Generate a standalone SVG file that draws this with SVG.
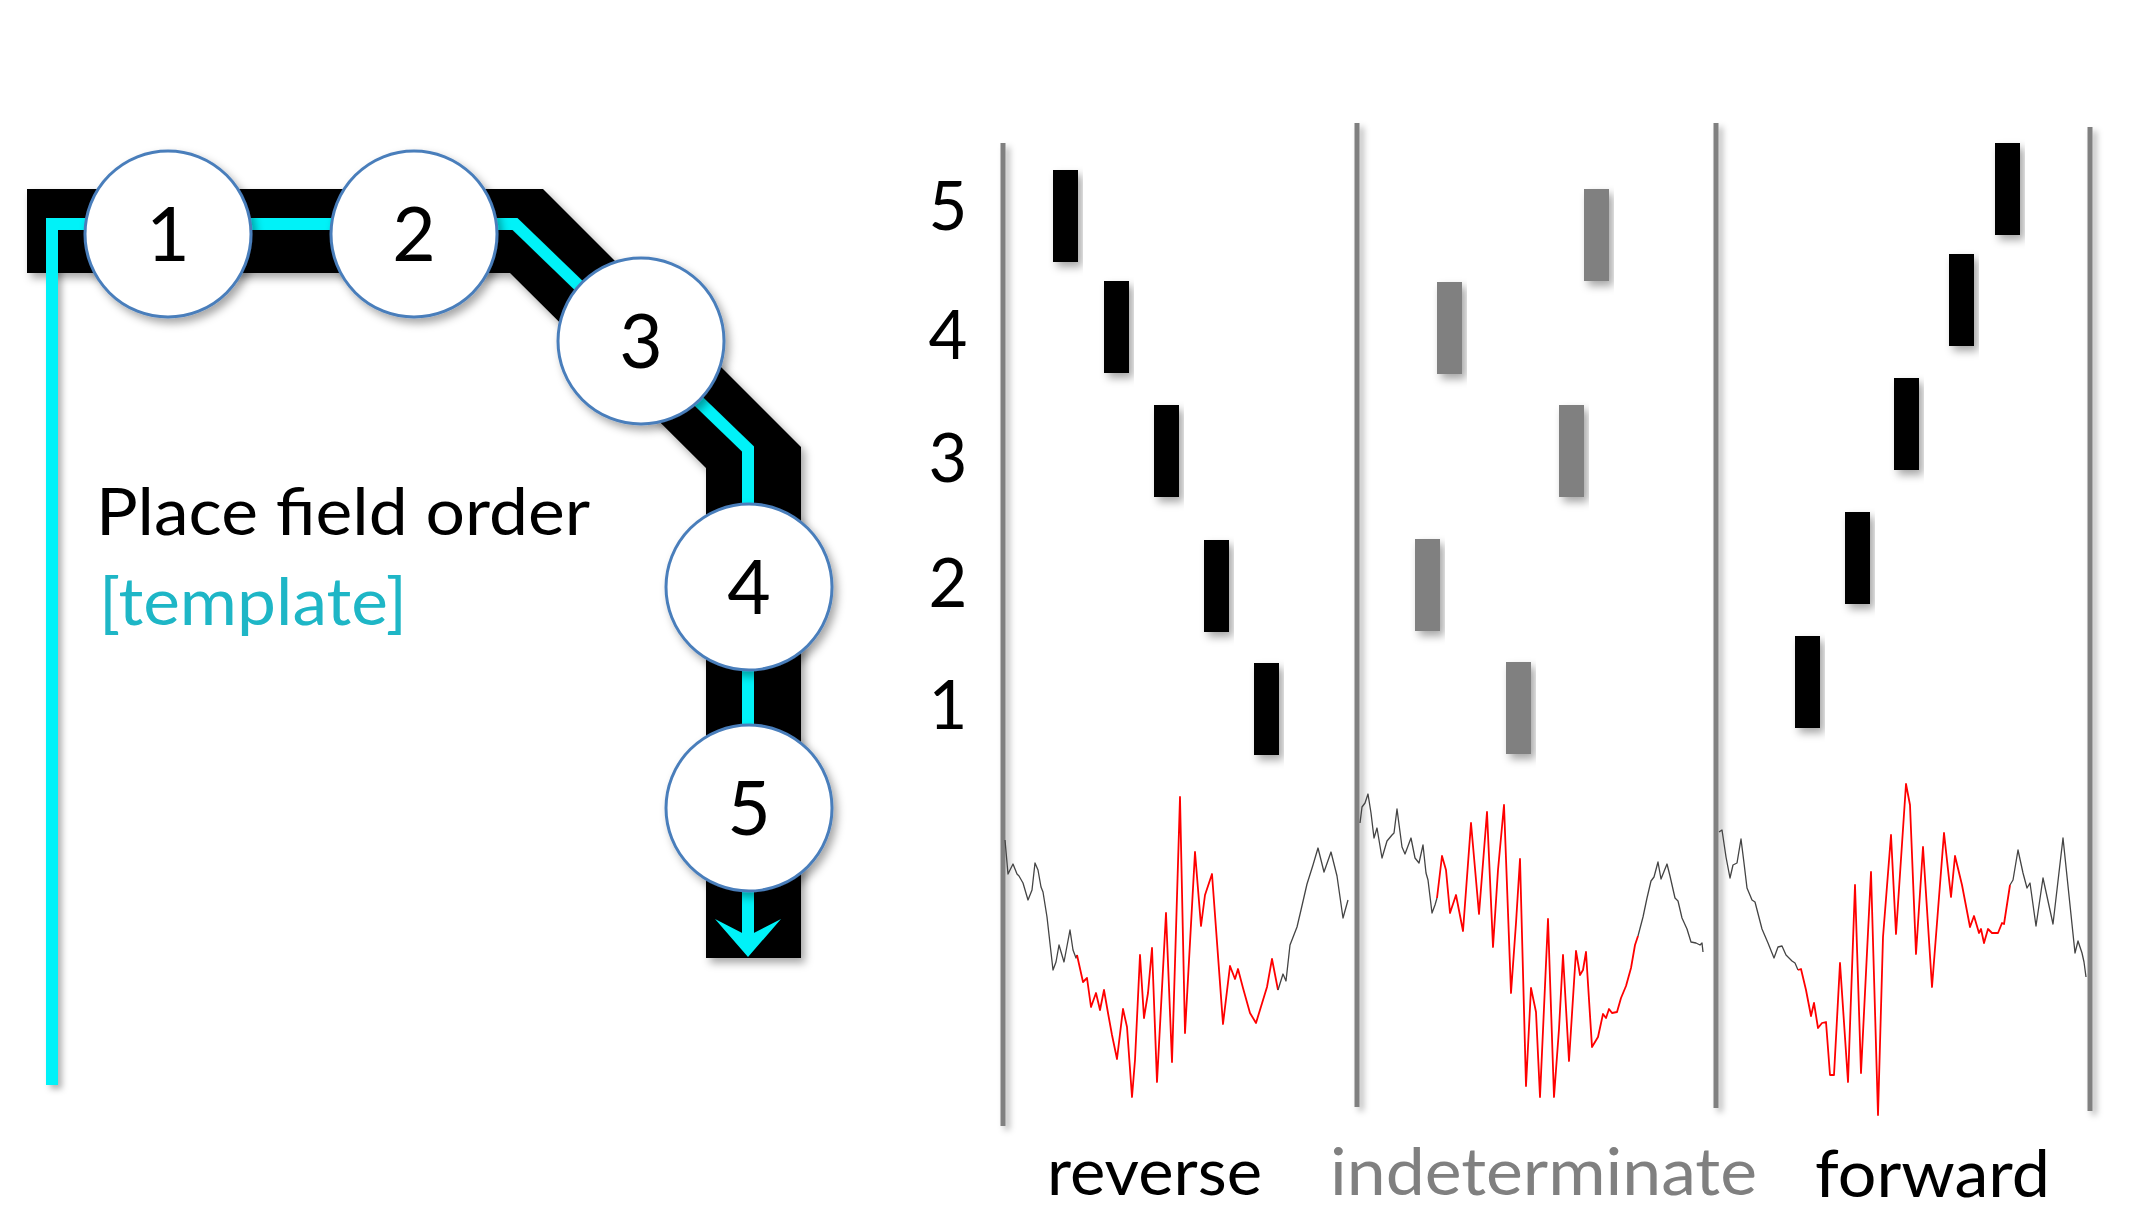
<svg xmlns="http://www.w3.org/2000/svg" width="2140" height="1226" viewBox="0 0 2140 1226">
<defs>
<filter id="sh" x="-20%" y="-20%" width="140%" height="140%">
<feDropShadow dx="4" dy="5" stdDeviation="4" flood-color="#000" flood-opacity="0.35"/>
</filter>
<filter id="shl" filterUnits="userSpaceOnUse" x="0" y="0" width="2140" height="1226">
<feDropShadow dx="4" dy="4" stdDeviation="3" flood-color="#000" flood-opacity="0.3"/>
</filter>
<style>
.t{font-family:Lato,"Open Sans","Liberation Sans",sans-serif;}
.node circle{fill:#fff;stroke:#4A7EBB;stroke-width:3;filter:url(#sh);}
.node text{font-size:75px;text-anchor:middle;fill:#000;}
.axis{fill:#808080;filter:url(#shl);}
.spk{fill:#000;filter:url(#sh);}
.spg{fill:#808080;filter:url(#sh);}
.row{font-size:67px;text-anchor:middle;fill:#000;}
.lab{font-size:66px;}
.gw{fill:none;stroke:#444;stroke-width:1.3;stroke-linejoin:round;}
.rw{fill:none;stroke:#FF0000;stroke-width:1.8;stroke-linejoin:round;}
</style>
</defs>
<rect width="2140" height="1226" fill="#fff"/>

<g id="track">
<polygon points="27,189 543,189 801,447 801,958 706,958 706,468 510,273 27,273" fill="#000" filter="url(#sh)"/>
</g>

<g id="connectors">
<path d="M52,1085 L52,224 L515,224 L748,449 L748,936" fill="none" stroke="#00F2F8" stroke-width="12" stroke-linejoin="miter" filter="url(#shl)"/>
<polygon points="715,919 748,957 781,919 748,936" fill="#00F2F8"/>
</g>

<g id="node1" class="node t"><circle cx="168" cy="234" r="83"/><text x="168" y="261">1</text></g>
<g id="node2" class="node t"><circle cx="414" cy="234" r="83"/><text x="414" y="261">2</text></g>
<g id="node3" class="node t"><circle cx="641" cy="341" r="83"/><text x="641" y="368">3</text></g>
<g id="node4" class="node t"><circle cx="749" cy="587" r="83"/><text x="749" y="614">4</text></g>
<g id="node5" class="node t"><circle cx="749" cy="808" r="83"/><text x="749" y="835">5</text></g>

<g id="title" class="t">
<text x="96" y="535" font-size="66" fill="#000" textLength="494" lengthAdjust="spacingAndGlyphs">Place field order</text>
<text x="99" y="625" font-size="66" fill="#1EB6C6" textLength="308" lengthAdjust="spacingAndGlyphs">[template]</text>
</g>

<g id="axes">
<rect class="axis" x="1000.5" y="143" width="5" height="983"/>
<rect class="axis" x="1354.5" y="123" width="5" height="984"/>
<rect class="axis" x="1713.5" y="123" width="5" height="985"/>
<rect class="axis" x="2087.5" y="127" width="5" height="984"/>
</g>

<g id="rowlabels" class="t">
<text class="row" x="948" y="230">5</text>
<text class="row" x="948" y="359">4</text>
<text class="row" x="948" y="482">3</text>
<text class="row" x="948" y="607">2</text>
<text class="row" x="948" y="729">1</text>
</g>

<g id="reverse">
<rect class="spk" x="1053" y="170" width="25" height="92"/>
<rect class="spk" x="1104" y="281" width="25" height="92"/>
<rect class="spk" x="1154" y="405" width="25" height="92"/>
<rect class="spk" x="1204" y="540" width="25" height="92"/>
<rect class="spk" x="1254" y="663" width="25" height="92"/>
<polyline class="gw" points="1005,840 1008,874 1013,864 1017,874 1019,876 1023,883 1028,900 1032,890 1035,863 1038,870 1041,887 1043,892 1047,917 1053,970 1056,962 1059,945 1064,962 1070,930 1073,950 1076,958 1077,955"/>
<polyline class="rw" points="1077,955 1083,982 1087,978 1091,1007 1096,993 1100,1010 1104,990 1108,1013 1112,1035 1117,1059 1123,1009 1127,1027 1132,1097 1135,1060 1140,955 1144,1018 1148,993 1152,948 1157,1082 1166,913 1172,1062 1180,797 1185,1033 1195,852 1201,926 1205,895 1212,874 1223,1024 1230,966 1235,979 1238,969 1243,988 1250,1013 1256,1023 1267,987 1272,959 1278,990"/>
<polyline class="gw" points="1278,990 1283,974 1286,981 1290,945 1297,927 1301,910 1307,884 1313,865 1318,848 1324,872 1331,852 1337,876 1343,918 1348,900"/>
<text class="t lab" x="1047" y="1195" fill="#000" textLength="215" lengthAdjust="spacingAndGlyphs">reverse</text>
</g>

<g id="indeterminate">
<rect class="spg" x="1584" y="189" width="25" height="92"/>
<rect class="spg" x="1437" y="282" width="25" height="92"/>
<rect class="spg" x="1559" y="405" width="25" height="92"/>
<rect class="spg" x="1415" y="539" width="25" height="92"/>
<rect class="spg" x="1506" y="662" width="25" height="92"/>
<polyline class="gw" points="1360,823 1362,807 1365,803 1368,794 1371,813 1374,838 1377,828 1382,858 1387,841 1392,835 1394,833 1397,809 1402,847 1405,854 1411,838 1415,858 1419,863 1423,845 1426,873 1428,880 1432,913 1435,905 1437,898"/>
<polyline class="rw" points="1437,898 1442,856 1446,870 1450,913 1456,895 1463,931 1471,823 1479,914 1487,812 1493,947 1498,870 1504,805 1511,993 1516,923 1520,859 1526,1086 1531,988 1536,1012 1540,1097 1548,919 1554,1097 1559,1029 1563,955 1569,1061 1576,951 1580,975 1583,970 1586,952 1592,1047 1598,1037 1603,1014 1606,1018 1609,1009 1612,1013 1617,1012 1621,998 1626,986 1631,968 1635,945 1638,936"/>
<polyline class="gw" points="1638,936 1643,917 1647,898 1651,881 1654,877 1658,862 1661,879 1667,864 1670,876 1675,898 1678,901 1682,918 1687,929 1691,942 1696,943 1700,945 1702,943 1703,952"/>
<text class="t lab" x="1330" y="1195" fill="#808080" textLength="427" lengthAdjust="spacingAndGlyphs">indeterminate</text>
</g>

<g id="forward">
<rect class="spk" x="1995" y="143" width="25" height="92"/>
<rect class="spk" x="1949" y="254" width="25" height="92"/>
<rect class="spk" x="1894" y="378" width="25" height="92"/>
<rect class="spk" x="1845" y="512" width="25" height="92"/>
<rect class="spk" x="1795" y="636" width="25" height="92"/>
<polyline class="gw" points="1719,832 1722,830 1726,857 1730,878 1733,865 1737,863 1741,839 1744,863 1747,888 1752,900 1755,902 1762,929 1768,943 1774,958 1778,947 1782,946 1786,955 1792,961 1795,963 1798,970"/>
<polyline class="rw" points="1798,970 1801,969 1806,990 1811,1016 1814,1003 1818,1028 1822,1023 1826,1022 1830,1075 1834,1075 1840,963 1848,1082 1855,885 1861,1073 1871,872 1878,1115 1883,937 1891,835 1896,934 1906,784 1910,805 1916,954 1923,847 1932,987 1944,833 1951,897 1955,856 1962,885 1970,927 1974,916 1979,933 1981,929 1984,943 1988,929 1992,933 1998,933 2002,923 2004,924 2010,885"/>
<polyline class="gw" points="2010,885 2013,880 2018,850 2023,873 2027,888 2030,883 2036,926 2043,878 2053,924 2063,838 2075,953 2078,941 2082,953 2084,962 2086,977"/>
<text class="t lab" x="1815" y="1197" fill="#000" textLength="235" lengthAdjust="spacingAndGlyphs">forward</text>
</g>
</svg>
